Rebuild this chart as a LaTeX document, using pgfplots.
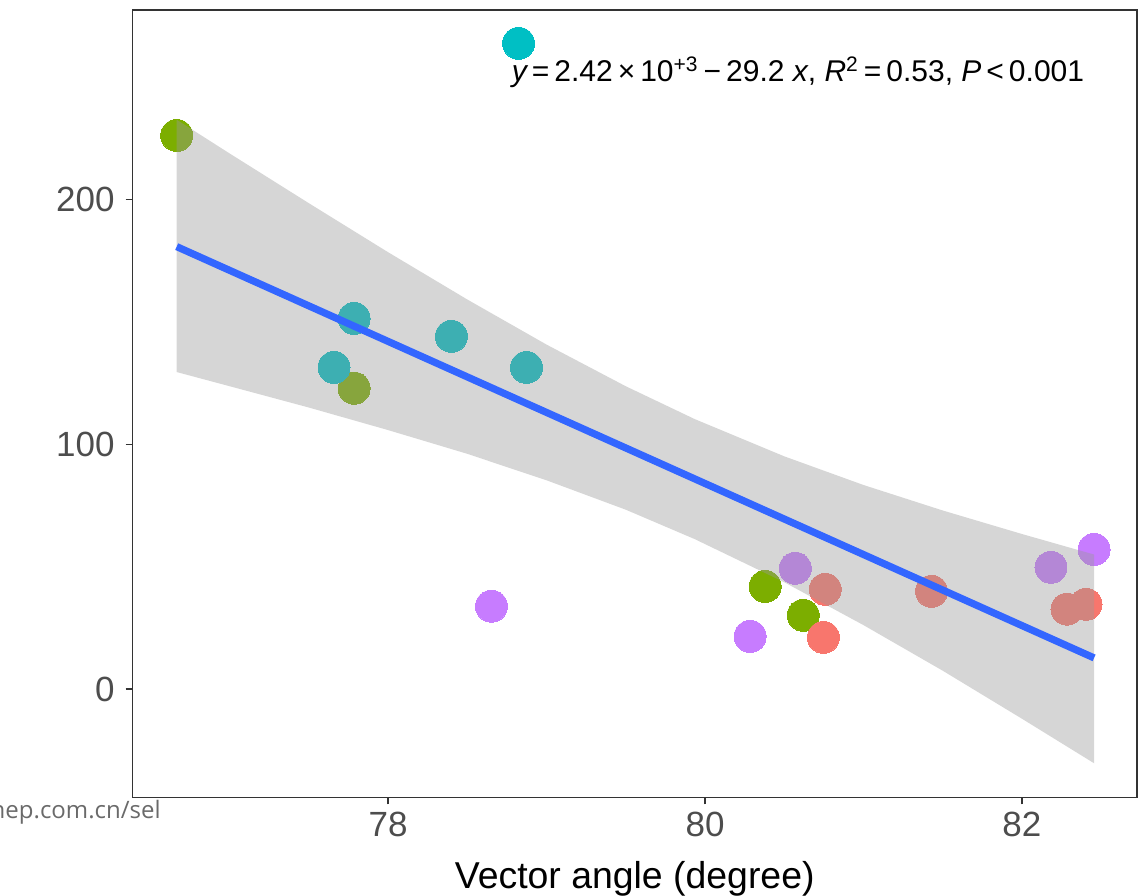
\documentclass[border=0pt]{standalone}
\usepackage{pgfplots}
\pgfplotsset{compat=1.18}
\usepackage{fontspec}
\setmainfont{Liberation Sans}
\newfontfamily\wmfont{Open Sans}
\definecolor{cR}{HTML}{F8766D}
\definecolor{cG}{HTML}{7CAE00}
\definecolor{cC}{HTML}{00BFC4}
\definecolor{cP}{HTML}{C77CFF}
\definecolor{lineblue}{HTML}{3366FF}
\definecolor{tickgray}{HTML}{4D4D4D}
\definecolor{axgray}{HTML}{333333}
\begin{document}
\begin{tikzpicture}[x=0.5pt,y=0.5pt]
\path[use as bounding box] (0,0) rectangle (1140,895);
\begin{scope}
\clip (0,0) rectangle (1140,895);
\node[anchor=base east, text={rgb,255:red,106;green,106;blue,106}, font=\wmfont\fontsize{12}{14}\selectfont, inner sep=0pt] at (161,77) {hep.com.cn/sel};
\end{scope}
\begin{axis}[
  at={(66.25pt,48.85pt)}, anchor=south west,
  scale only axis, width=502.25pt, height=393.65pt,
  xmin=76.386, xmax=82.727, ymin=-44.1, ymax=277.3,
  xtick={78,80,82}, ytick={0,100,200},
  xtick pos=bottom, ytick pos=left,
  tick align=outside, major tick length=3.5pt,
  tick style={color=axgray, line width=0.8pt},
  axis line style={color=axgray, line width=0.8pt},
  /pgf/number format/assume math mode=true,
  tick label style={font=\fontsize{17.5}{20}\selectfont, text=tickgray},
  xticklabel style={inner sep=0pt, anchor=north, yshift=-3.85pt},
  yticklabel style={inner sep=0pt, anchor=east, xshift=-5.25pt},
  clip=false, clip mode=individual,
]
% green
\addplot[cG, only marks, mark=*, mark size=8pt, mark options={draw=cG, fill=cG, line width=0pt}] table {
x y
76.665 226.1
77.785 122.9
80.380 42.0
80.620 30.2
};
% cyan
\addplot[cC, only marks, mark=*, mark size=8pt, mark options={draw=cC, fill=cC, line width=0pt}] table {
x y
78.823 263.7
77.785 151.4
77.658 131.4
78.399 144.1
78.873 131.4
};
% purple
\addplot[cP, only marks, mark=*, mark size=8pt, mark options={draw=cP, fill=cP, line width=0pt}] table {
x y
78.652 33.9
80.285 21.6
80.570 49.4
82.184 49.8
82.456 57.1
};
% red
\addplot[cR, only marks, mark=*, mark size=8pt, mark options={draw=cR, fill=cR, line width=0pt}] table {
x y
80.759 40.8
80.747 21.2
81.430 40.0
82.285 32.7
82.405 34.7
};
% confidence band
\addplot[draw=none, fill=black!40, fill opacity=0.4] coordinates {
(76.665,232.5) (77.0,218.7) (77.5,198.4) (78.0,178.4) (78.5,159.1) (79.0,140.7) (79.5,123.7) (79.935,110.3) (80.5,95.1) (81.0,83.4) (81.5,73.0) (82.0,63.4) (82.456,55.0)
(82.456,-30.2) (82.0,-12.0) (81.5,7.6) (81.0,26.2) (80.5,43.7) (79.935,61.3) (79.5,73.3) (79.0,85.3) (78.5,96.1) (78.0,105.8) (77.5,115.0) (77.0,123.7) (76.665,129.5)
} -- cycle;
% regression line
\addplot[lineblue, line width=3.6pt] coordinates {(76.665,180.7) (82.456,12.8)};
\end{axis}
\node[anchor=base, inner sep=0pt, font=\fontsize{18.7}{22}\selectfont] at (634.75,7) {Vector angle (degree)};
\node[anchor=base west, inner sep=0pt, font=\fontsize{15}{18}\selectfont] at (511.5,813) {\itshape y\upshape\,=\,2.42\,×\,10\textsuperscript{+3}\,−\,29.2 \itshape x\upshape, \itshape R\upshape\textsuperscript{2}\,=\,0.53, \itshape P\upshape\,<\,0.001};
\end{tikzpicture}
\end{document}
